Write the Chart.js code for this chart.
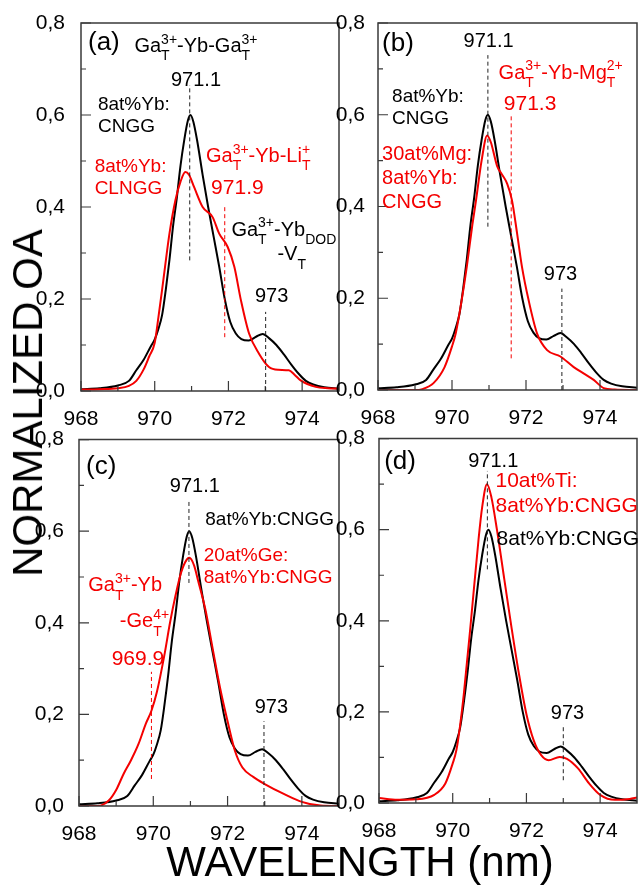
<!DOCTYPE html>
<html>
<head>
<meta charset="utf-8">
<title>Normalized OA spectra</title>
<script src="https://cdn.jsdelivr.net/npm/chart.js@4.4.0/dist/chart.umd.min.js"></script>
<style>
    body { margin: 0; width: 639px; height: 885px; background: #fff; position: relative; overflow: hidden;
           font-family: "Liberation Sans", Arial, Helvetica, sans-serif; }
    .panel { position: absolute; }
    #ytitle { position: absolute; left: 28px; top: 403px; font-size: 42px; line-height: 1; white-space: nowrap;
              transform: translate(-50%, -50%) rotate(-90deg); color: #000; }
    #xtitle { position: absolute; left: 360px; top: 841px; font-size: 42px; line-height: 1; white-space: nowrap;
              transform: translateX(-50%); color: #000; }
</style>
</head>
<body>
<div class="panel" style="left:0;top:0;width:341px;height:430px"><canvas id="chartA"></canvas></div>
<div class="panel" style="left:330px;top:0;width:309px;height:430px"><canvas id="chartB"></canvas></div>
<div class="panel" style="left:0;top:420px;width:341px;height:430px"><canvas id="chartC"></canvas></div>
<div class="panel" style="left:330px;top:420px;width:309px;height:430px"><canvas id="chartD"></canvas></div>
<div id="ytitle">NORMALIZED OA</div>
<div id="xtitle">WAVELENGTH (nm)</div>

<script>
document.addEventListener('DOMContentLoaded', () => {
    const FONT = '"Liberation Sans", Arial, Helvetica, sans-serif';
    const RED = '#f40000';

    // Axis ticks
    const xTickValues = [968, 970, 972, 974];
    const xMinorValues = [969, 971, 973];
    const yTickValues = [0, 0.2, 0.4, 0.6, 0.8];
    const yMinorValues = [0.1, 0.3, 0.5, 0.7];

    // 8at%Yb:CNGG (black, shown in every panel)
    const cnggWl = [968.0, 968.5, 969.0, 969.3, 969.5, 969.7, 969.9, 970.0, 970.1, 970.2, 970.3, 970.4, 970.5, 970.6,
                    970.7, 970.8, 970.9, 970.97, 971.05, 971.15, 971.3, 971.45, 971.6, 971.75, 971.9, 972.05, 972.2,
                    972.35, 972.55, 972.75, 972.93, 973.1, 973.3, 973.5, 973.7, 973.9, 974.1, 974.3, 974.6, 975.0];
    const cnggOA = [0.004, 0.006, 0.012, 0.022, 0.045, 0.068, 0.098, 0.112, 0.135, 0.165, 0.22, 0.285, 0.36, 0.42,
                    0.49, 0.545, 0.588, 0.600, 0.585, 0.545, 0.47, 0.40, 0.335, 0.27, 0.2, 0.15, 0.125,
                    0.113, 0.11, 0.118, 0.124, 0.115, 0.1, 0.08, 0.058, 0.038, 0.022, 0.014, 0.008, 0.005];

    // (a) 8at%Yb:CLNGG
    const clnggWl = [968.0, 968.5, 969.0, 969.3, 969.5, 969.7, 969.85, 970.0, 970.1, 970.2, 970.28, 970.4, 970.56,
                     970.7, 970.83, 970.93, 971.07, 971.3, 971.57, 971.75, 971.98, 972.16, 972.34, 972.56, 972.83,
                     973.1, 973.35, 973.64, 973.8, 973.96, 974.37, 974.7, 975.0];
    const clnggOA = [0.003, 0.004, 0.006, 0.011, 0.022, 0.047, 0.075, 0.105, 0.16, 0.22, 0.27, 0.342, 0.414,
                     0.455, 0.476, 0.47, 0.443, 0.40, 0.378, 0.342, 0.313, 0.27, 0.197, 0.125, 0.081,
                     0.052, 0.046, 0.045, 0.035, 0.023, 0.009, 0.006, 0.005];

    // (b) 30at%Mg:8at%Yb:CNGG
    const mgWl = [968.0, 969.0, 969.2, 969.5, 969.8, 970.0, 970.1, 970.25, 970.4, 970.55, 970.65, 970.8, 970.95,
                  971.05, 971.22, 971.35, 971.49, 971.62, 971.76, 971.89, 972.07, 972.3, 972.57, 972.93, 973.29,
                  973.6, 973.83, 974.1, 974.4, 975.0];
    const mgOA = [0.0, 0.0, 0.002, 0.015, 0.05, 0.095, 0.123, 0.19, 0.269, 0.36, 0.414, 0.5, 0.555,
                  0.54, 0.488, 0.47, 0.45, 0.414, 0.341, 0.269, 0.196, 0.123, 0.087, 0.073, 0.05,
                  0.034, 0.022, 0.004, 0.001, 0.0];

    // (c) 20at%Ge:8at%Yb:CNGG
    const geWl = [968.0, 968.5, 968.8, 969.0, 969.2, 969.4, 969.6, 969.8, 969.95, 970.1, 970.3, 970.45, 970.6,
                  970.75, 970.9, 970.97, 971.1, 971.2, 971.4, 971.6, 971.8, 972.0, 972.2, 972.4, 972.7, 973.0,
                  973.5, 974.0, 974.5, 975.0];
    const geOA = [0.0, 0.0, 0.012, 0.035, 0.07, 0.1, 0.135, 0.18, 0.208, 0.25, 0.33, 0.4, 0.46,
                  0.51, 0.538, 0.542, 0.525, 0.494, 0.43, 0.343, 0.257, 0.185, 0.12, 0.084, 0.063, 0.048,
                  0.027, 0.009, 0.001, 0.0];

    // (d) 10at%Ti:8at%Yb:CNGG
    const tiWl = [968.0, 968.5, 969.0, 969.5, 969.8, 970.0, 970.1, 970.2, 970.3, 970.5, 970.7, 970.8, 970.93,
                  971.05, 971.2, 971.4, 971.6, 971.8, 972.0, 972.2, 972.4, 972.6, 972.9, 973.1, 973.4, 973.7,
                  974.0, 974.4, 974.8, 975.0];
    const tiOA = [0.011, 0.007, 0.008, 0.018, 0.043, 0.087, 0.116, 0.17, 0.238, 0.404, 0.578, 0.65, 0.70,
                  0.671, 0.60, 0.491, 0.383, 0.282, 0.195, 0.137, 0.105, 0.094, 0.101, 0.097, 0.076, 0.043,
                  0.018, 0.007, 0.009, 0.012];

    const toPoints = (wl, oa) => wl.map((w, i) => ({ x: w, y: oa[i] }));

    // draws text with stacked sub/superscripts: parts are strings or [sub, sup]
    function drawRich(ctx, parts, x, y, size, color, align) {
        const big = size + 'px ' + FONT;
        const sm = Math.round(size * 0.68) + 'px ' + FONT;
        const widthOf = p => {
            if (typeof p === 'string') { ctx.font = big; return ctx.measureText(p).width; }
            ctx.font = sm;
            return Math.max(p[0] ? ctx.measureText(p[0]).width : 0, p[1] ? ctx.measureText(p[1]).width : 0);
        };
        const total = parts.reduce((s, p) => s + widthOf(p), 0);
        let cx = align === 'center' ? x - total / 2 : x;
        ctx.fillStyle = color;
        ctx.textAlign = 'left';
        ctx.textBaseline = 'alphabetic';
        parts.forEach(p => {
            const w = widthOf(p);
            if (typeof p === 'string') {
                ctx.font = big;
                ctx.fillText(p, cx, y);
            } else {
                ctx.font = sm;
                if (p[0]) ctx.fillText(p[0], cx, y + size * 0.42);
                if (p[1]) ctx.fillText(p[1], cx, y - size * 0.42);
            }
            cx += w;
        });
    }

    function decorPlugin(panel) {
        return {
            id: 'decor',
            afterDraw(chart) {
                const ctx = chart.ctx, a = chart.chartArea;
                const xs = chart.scales.x, ys = chart.scales.y;
                ctx.save();
                ctx.setLineDash([]);
                ctx.lineDashOffset = 0;
                ctx.globalAlpha = 1;
                // frame
                ctx.strokeStyle = '#3a3a3a';
                ctx.lineWidth = 1.5;
                ctx.beginPath();
                ctx.rect(a.left, a.top, a.right - a.left, a.bottom - a.top);
                ctx.stroke();
                // inward ticks
                ctx.lineWidth = 1.2;
                ctx.beginPath();
                const tickX = (v, len) => { const p = xs.getPixelForValue(v); ctx.moveTo(p, a.bottom); ctx.lineTo(p, a.bottom - len); };
                const tickY = (v, len) => { const p = ys.getPixelForValue(v); ctx.moveTo(a.left, p); ctx.lineTo(a.left + len, p); };
                xTickValues.forEach(v => tickX(v, 10));
                xMinorValues.forEach(v => tickX(v, 5));
                yTickValues.forEach(v => tickY(v, 10));
                yMinorValues.forEach(v => tickY(v, 5));
                ctx.stroke();
                // dashed peak markers
                ctx.lineWidth = 1;
                ctx.setLineDash([4, 3]);
                panel.dashes.forEach(d => {
                    const px = xs.getPixelForValue(d.x);
                    ctx.strokeStyle = d.red ? RED : '#222';
                    ctx.beginPath();
                    ctx.moveTo(px, ys.getPixelForValue(d.y0));
                    ctx.lineTo(px, ys.getPixelForValue(d.y1));
                    ctx.stroke();
                });
                ctx.setLineDash([]);
                // labels
                panel.notes.forEach(n => {
                    drawRich(ctx, n.parts, xs.getPixelForValue(n.x), ys.getPixelForValue(n.y),
                             n.size, n.red ? RED : '#000', n.align);
                });
                ctx.restore();
            }
        };
    }

    function makeChart(panel) {
        const ctx = document.getElementById(panel.id);
        return new Chart(ctx, {
            type: 'line',
            data: {
                datasets: [
                    {
                        data: toPoints(panel.redWl, panel.redOA),
                        borderColor: RED, borderWidth: 2, pointRadius: 0, cubicInterpolationMode: 'monotone'
                    },
                    {
                        data: toPoints(cnggWl, cnggOA),
                        borderColor: '#000', borderWidth: 2, pointRadius: 0, cubicInterpolationMode: 'monotone'
                    }
                ]
            },
            options: {
                responsive: true,
                maintainAspectRatio: false,
                animation: false,
                events: [],
                layout: { padding: { top: panel.top, right: 2, left: 0, bottom: 0 } },
                plugins: { legend: { display: false }, tooltip: { enabled: false } },
                scales: {
                    x: {
                        type: 'linear', min: 968, max: 975,
                        grid: { display: false }, border: { display: false },
                        afterBuildTicks: s => { s.ticks = xTickValues.map(v => ({ value: v })); },
                        afterFit: s => { s.height = panel.xh; },
                        ticks: { padding: 8, maxRotation: 0, color: '#000', font: { size: 21 },
                                 callback: v => String(v) }
                    },
                    y: {
                        min: 0, max: 0.8,
                        grid: { display: false }, border: { display: false },
                        afterBuildTicks: s => { s.ticks = yTickValues.map(v => ({ value: v })); },
                        afterFit: s => { s.width = panel.yw; },
                        ticks: { padding: panel.ypad, color: '#000', font: { size: 21 },
                                 callback: v => v.toFixed(1).replace('.', ',') }
                    }
                }
            },
            plugins: [decorPlugin(panel)]
        });
    }

    Chart.defaults.font.family = FONT;

    const panels = [
        {
            id: 'chartA', redWl: clnggWl, redOA: clnggOA, top: 23, xh: 39, yw: 81, ypad: 8,
            notes: [
                { x: 968.19, y: 0.741, size: 26, parts: ['(a)'] },
                { x: 969.45, y: 0.737, size: 20, parts: ['Ga', ['T', '3+'], '-Yb-Ga', ['T', '3+']] },
                { x: 971.12, y: 0.664, size: 20, parts: ['971.1'], align: 'center' },
                { x: 968.46, y: 0.61, size: 19, parts: ['8at%Yb:'] },
                { x: 968.46, y: 0.563, size: 19, parts: ['CNGG'] },
                { x: 968.37, y: 0.476, size: 19, parts: ['8at%Yb:'], red: true },
                { x: 968.37, y: 0.429, size: 19, parts: ['CLNGG'], red: true },
                { x: 971.39, y: 0.498, size: 20, parts: ['Ga', ['T', '3+'], '-Yb-Li', ['T', '+']], red: true },
                { x: 971.53, y: 0.428, size: 21, parts: ['971.9'], red: true },
                { x: 972.08, y: 0.338, size: 20, parts: ['Ga', ['T', '3+'], '-Yb', ['DOD', null]] },
                { x: 973.33, y: 0.284, size: 20, parts: ['-V', ['T', null]] },
                { x: 972.72, y: 0.193, size: 20, parts: ['973'] }
            ],
            dashes: [
                { x: 970.95, y0: 0.284, y1: 0.665 },
                { x: 971.9, y0: 0.117, y1: 0.404, red: true },
                { x: 973.01, y0: 0, y1: 0.172 }
            ]
        },
        {
            id: 'chartB', redWl: mgWl, redOA: mgOA, top: 23, xh: 40, yw: 48, ypad: 5,
            notes: [
                { x: 968.11, y: 0.74, size: 26, parts: ['(b)'] },
                { x: 970.99, y: 0.748, size: 20, parts: ['971.1'], align: 'center' },
                { x: 971.26, y: 0.679, size: 20, parts: ['Ga', ['T', '3+'], '-Yb-Mg', ['T', '2+']], red: true },
                { x: 971.4, y: 0.61, size: 21, parts: ['971.3'], red: true },
                { x: 968.38, y: 0.628, size: 19, parts: ['8at%Yb:'] },
                { x: 968.38, y: 0.579, size: 19, parts: ['CNGG'] },
                { x: 968.11, y: 0.501, size: 20, parts: ['30at%Mg:'], red: true },
                { x: 968.11, y: 0.45, size: 20, parts: ['8at%Yb:'], red: true },
                { x: 968.11, y: 0.396, size: 20, parts: ['CNGG'], red: true },
                { x: 972.48, y: 0.24, size: 20, parts: ['973'] }
            ],
            dashes: [
                { x: 970.97, y0: 0.356, y1: 0.73 },
                { x: 971.6, y0: 0.069, y1: 0.599, red: true },
                { x: 972.97, y0: 0, y1: 0.221 }
            ]
        },
        {
            id: 'chartC', redWl: geWl, redOA: geOA, top: 15, xh: 44, yw: 79, ypad: 7,
            notes: [
                { x: 968.19, y: 0.724, size: 26, parts: ['(c)'] },
                { x: 971.12, y: 0.685, size: 20, parts: ['971.1'], align: 'center' },
                { x: 971.4, y: 0.613, size: 19, parts: ['8at%Yb:CNGG'] },
                { x: 971.36, y: 0.536, size: 19, parts: ['20at%Ge:'], red: true },
                { x: 971.36, y: 0.487, size: 19, parts: ['8at%Yb:CNGG'], red: true },
                { x: 968.25, y: 0.469, size: 20, parts: ['Ga', ['T', '3+'], '-Yb'], red: true },
                { x: 969.1, y: 0.39, size: 20, parts: ['-Ge', ['T', '4+']], red: true },
                { x: 968.88, y: 0.307, size: 21, parts: ['969.9'], red: true },
                { x: 972.73, y: 0.203, size: 20, parts: ['973'] }
            ],
            dashes: [
                { x: 970.96, y0: 0.487, y1: 0.67 },
                { x: 969.95, y0: 0.059, y1: 0.293, red: true },
                { x: 972.98, y0: 0, y1: 0.185 }
            ]
        },
        {
            id: 'chartD', redWl: tiWl, redOA: tiOA, top: 14, xh: 47, yw: 49, ypad: 6,
            notes: [
                { x: 968.14, y: 0.733, size: 26, parts: ['(d)'] },
                { x: 971.1, y: 0.738, size: 20, parts: ['971.1'], align: 'center' },
                { x: 971.16, y: 0.693, size: 21, parts: ['10at%Ti:'], red: true },
                { x: 971.16, y: 0.639, size: 21, parts: ['8at%Yb:CNGG'], red: true },
                { x: 971.19, y: 0.567, size: 21, parts: ['8at%Yb:CNGG'] },
                { x: 972.66, y: 0.184, size: 20, parts: ['973'] }
            ],
            dashes: [
                { x: 970.94, y0: 0.513, y1: 0.729 },
                { x: 973.0, y0: 0.05, y1: 0.173 }
            ]
        }
    ];

    panels.forEach(makeChart);
});
</script>
</body>
</html>
